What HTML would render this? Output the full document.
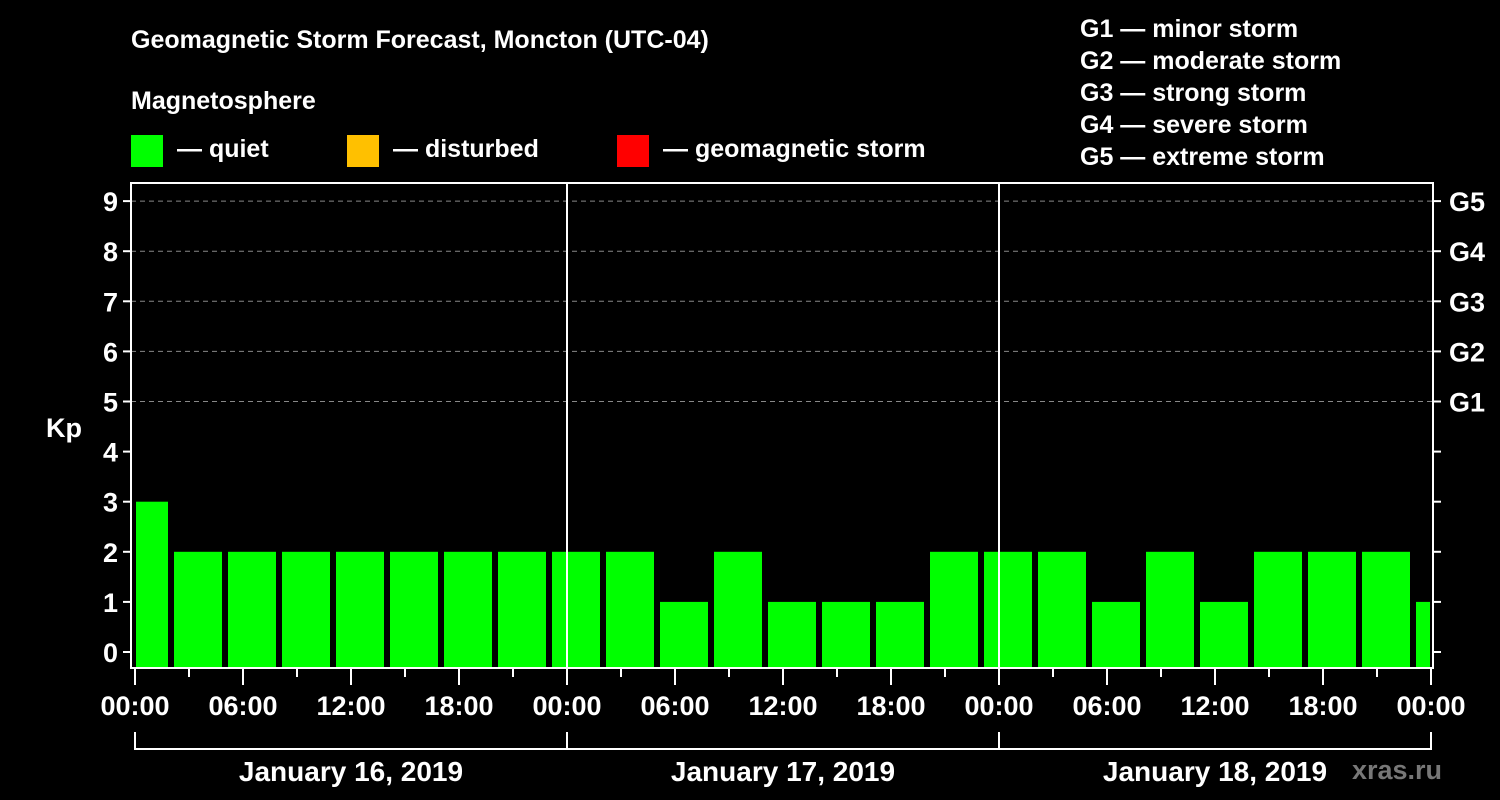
<!DOCTYPE html>
<html><head><meta charset="utf-8"><style>
html,body{margin:0;padding:0;background:#000;}
svg{display:block;font-family:"Liberation Sans",Arial,sans-serif;font-weight:bold;}
</style></head><body>
<svg id="chart" width="1500" height="800" viewBox="0 0 1500 800">
<rect width="1500" height="800" fill="#000"/>
<text x="131" y="48" fill="#fff" font-size="25">Geomagnetic Storm Forecast, Moncton (UTC-04)</text>
<text x="131" y="109" fill="#fff" font-size="25">Magnetosphere</text>
<g><rect x="131" y="135" width="32" height="32" fill="#00ff00"/><text x="177" y="157" fill="#fff" font-size="25">— quiet</text></g>
<g><rect x="347" y="135" width="32" height="32" fill="#ffc000"/><text x="393" y="157" fill="#fff" font-size="25">— disturbed</text></g>
<g><rect x="617" y="135" width="32" height="32" fill="#ff0000"/><text x="663" y="157" fill="#fff" font-size="25">— geomagnetic storm</text></g>
<g fill="#fff" font-size="25">
<text x="1080" y="37">G1 — minor storm</text>
<text x="1080" y="69">G2 — moderate storm</text>
<text x="1080" y="101">G3 — strong storm</text>
<text x="1080" y="133">G4 — severe storm</text>
<text x="1080" y="165">G5 — extreme storm</text>
</g>
<text x="64" y="437" fill="#fff" font-size="27" text-anchor="middle">Kp</text>
<g id="grid"></g><g id="bars"></g><g id="axes"></g>
<text x="1442" y="779" fill="#777" font-size="27" text-anchor="end">xras.ru</text>
</svg>
<script>
const kpValues = [3,2,2,2,2,2,2,2,2,2,1,2,1,1,1,2,2,2,1,2,1,2,2,2,1];
const barStartHours = [-1,2,5,8,11,14,17,20,23,26,29,32,35,38,41,44,47,50,53,56,59,62,65,68,71];
const yTicks = [0,1,2,3,4,5,6,7,8,9];
const gLabels = ["G1","G2","G3","G4","G5"];
const xTickLabels = ["00:00","06:00","12:00","18:00","00:00","06:00","12:00","18:00","00:00","06:00","12:00","18:00","00:00"];
const dayLabels = ["January 16, 2019","January 17, 2019","January 18, 2019"];
const NS="http://www.w3.org/2000/svg";
const X0=135, HW=18, Y0=652, UNIT=50.1, BOTTOM=668, TOP=183, LEFT=131, RIGHT=1433, HMAX=72;
const xs=h=>X0+h*HW, ys=v=>Y0-v*UNIT;
function mk(t,a,p){const e=document.createElementNS(NS,t);for(const k in a)e.setAttribute(k,a[k]);p.appendChild(e);return e;}
const grid=document.getElementById('grid'),bars=document.getElementById('bars'),axes=document.getElementById('axes');
for(let v=5;v<=9;v++){const l=mk('line',{x1:LEFT,x2:RIGHT,y1:ys(v),y2:ys(v),stroke:'#888','stroke-dasharray':'5,4','stroke-width':1},grid);

}
kpValues.forEach((v,i)=>{let h0=Math.max(0,barStartHours[i]),h1=Math.min(HMAX,barStartHours[i]+3);
let x0=xs(h0)+(barStartHours[i]<0?1:3), x1=xs(h1)-(barStartHours[i]+3>HMAX?1:3);
const c=v>=5?'#ff0000':(v>=4?'#ffc000':'#00ff00');
const r=mk('rect',{x:x0,y:ys(v),width:x1-x0,height:BOTTOM-ys(v),fill:c},bars);

});
// day separators
[24,48].forEach(h=>{const l=mk('line',{x1:xs(h),x2:xs(h),y1:TOP,y2:BOTTOM,stroke:'#fff','stroke-width':2},axes);

});
const frame=mk('rect',{x:LEFT,y:TOP,width:RIGHT-LEFT,height:BOTTOM-TOP,fill:'none',stroke:'#fff','stroke-width':2},axes);


yTicks.forEach(v=>{mk('line',{x1:LEFT-8,x2:LEFT,y1:ys(v),y2:ys(v),stroke:'#fff','stroke-width':2},axes);
mk('line',{x1:RIGHT,x2:RIGHT+8,y1:ys(v),y2:ys(v),stroke:'#fff','stroke-width':2},axes);
const t=mk('text',{x:LEFT-13,y:ys(v)+10,fill:'#fff','font-size':27,'text-anchor':'end'},axes);t.textContent=v;

});
gLabels.forEach((g,i)=>{const t=mk('text',{x:RIGHT+16,y:ys(5+i)+10,fill:'#fff','font-size':27},axes);t.textContent=g;

});
for(let h=0;h<=HMAX;h+=3){mk('line',{x1:xs(h),x2:xs(h),y1:BOTTOM,y2:BOTTOM+(h%6==0?17:9),stroke:'#fff','stroke-width':2},axes);}
xTickLabels.forEach((s,i)=>{const t=mk('text',{x:xs(i*6),y:715,fill:'#fff','font-size':27,'text-anchor':'middle'},axes);t.textContent=s;

});
mk('line',{x1:xs(0),x2:xs(HMAX),y1:749,y2:749,stroke:'#fff','stroke-width':2},axes);
[0,24,48,72].forEach(h=>mk('line',{x1:xs(h),x2:xs(h),y1:732,y2:750,stroke:'#fff','stroke-width':2},axes));
dayLabels.forEach((s,i)=>{const t=mk('text',{x:xs(i*24+12),y:781,fill:'#fff','font-size':28,'text-anchor':'middle'},axes);t.textContent=s;

});
</script>
</body></html>
